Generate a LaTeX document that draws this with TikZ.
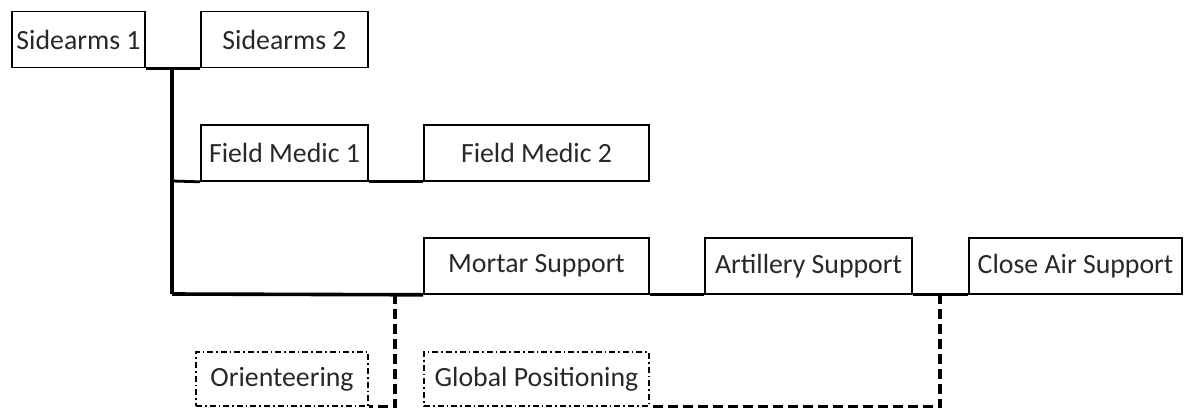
\documentclass[tikz,border=0pt]{standalone}
\usepackage{fontspec}
\setmainfont{Carlito}
\usepackage{tikz}
\definecolor{txtgray}{RGB}{40,40,40}
\tikzset{
    box/.style={draw=black,line width=0.8pt,rectangle,inner sep=0pt,minimum height=28pt,text=txtgray,font=\fontsize{13.9}{16}\selectfont},
    dbox/.style={box,line width=0.6pt,dash pattern=on 3pt off 1.5pt on 0.8pt off 1.5pt},
    link/.style={line width=1.4pt},
    dlink/.style={line width=1.8pt,dash pattern=on 5pt off 2.5pt}
}

\begin{document}
\begin{tikzpicture}[x=0.5pt,y=-0.5pt]
    \useasboundingbox (0,0) rectangle (1190,408);
    \node[box,minimum width=66.5pt] (S1) at (78.5,39.5){Sidearms 1};
    \node[box,minimum width=83.5pt] (S2) at (284.5,39.5){Sidearms 2};
    \node[box,minimum width=83.5pt] (FM1) at (284.5,153){Field Medic 1};
    \node[box,minimum width=112.5pt] (FM2) at (536.5,153){Field Medic 2};
    \node[box,minimum width=112.5pt] (MS) at (536.5,266){Mortar Support};
    \node[box,minimum width=103.5pt] (AS) at (808.5,266){Artillery Support};
    \node[box,minimum width=106.5pt] (CAS) at (1075.5,266){Close Air Support};
    \node[dbox,minimum width=86pt,minimum height=27pt] (OR) at (282,379){Orienteering};
    \node[dbox,minimum width=112.5pt,minimum height=27pt] (GP) at (536.5,379){Global Positioning};
    \coordinate (T1) at (172,68);
    \coordinate (T2) at (172,181);
    \coordinate (T3) at (172,294);
    \coordinate (D1) at (395,294);
    \coordinate (D2) at (940,294);
    \path [link](S1.south east) edge (S2.south west);
    \path [link,line width=1.8pt](T1) edge (T3);
    \path [link](T2) edge (FM1.south west);
    \path [link](FM1.south east) edge (FM2.south west);
    \path [link,line width=1.8pt](T3) edge (MS.south west);
    \path [link](MS.south east) edge (AS.south west);
    \path [link](AS.south east) edge (CAS.south west);
    \draw [dlink](D1) |- (OR.south east);
    \draw [dlink](D2) |- (GP.south east);
\end{tikzpicture}
\end{document}
